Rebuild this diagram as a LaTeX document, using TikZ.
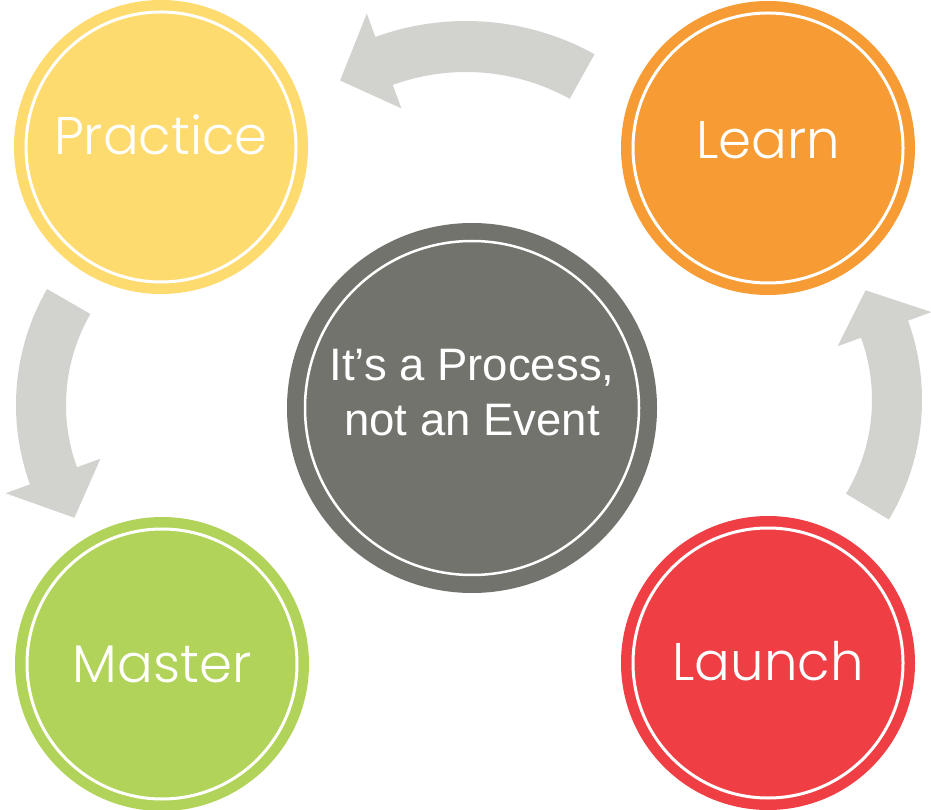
\documentclass[tikz,border=0pt]{standalone}
\usepackage{fontspec}
\setmainfont{Liberation Sans}
\newfontfamily\gothic{Poppins}[UprightFont=* Light]
\definecolor{practice}{HTML}{FDDB6E}
\definecolor{learn}{HTML}{F79C34}
\definecolor{launch}{HTML}{EF3F45}
\definecolor{master}{HTML}{B2D35A}
\definecolor{process}{HTML}{73736D}
\definecolor{arrowgrey}{HTML}{D2D3CF}

\begin{document}
\begin{tikzpicture}[x=1pt,y=1pt,
  blob/.style={shape=circle,fill=#1,minimum size=294pt,inner sep=0pt},
  ring/.style={draw=white,line width=3pt},
  word/.style={text=white,anchor=base,font=\gothic\fontsize{53}{64}\selectfont},
  band/.style={fill=arrowgrey}]
\useasboundingbox (0,0) rectangle (931,809);

% curved arrows
\fill[band,shift={(466,523)}] (61:265) arc[start angle=61,end angle=110,radius=265] -- (110:290) -- (121.5:241) -- (110:189) -- (110:214) arc[start angle=110,end angle=61,radius=214] -- cycle;
\fill[band,shift={(248,404)}] (150:232) arc[start angle=150,end angle=200,radius=232] -- (200:258) -- (213:207) -- (200:157) -- (200:182) arc[start angle=200,end angle=150,radius=182] -- cycle;
\fill[band,shift={(690,409)}] (-31:232) arc[start angle=-31,end angle=20,radius=232] -- (20:257) -- (32:207) -- (20:157) -- (20:182) arc[start angle=20,end angle=-31,radius=182] -- cycle;

\node[blob=practice] (0) at (161,662) {};
\node[blob=learn] (1) at (768,661) {};
\node[blob=launch] (2) at (768,146) {};
\node[blob=master] (3) at (162,145) {};
\node[shape=circle,fill=process,minimum size=370pt,inner sep=0pt] (4) at (472,401) {};

\draw[ring] (0.center) circle (135pt);
\draw[ring] (1.center) circle (135pt);
\draw[ring] (2.center) circle (135pt);
\draw[ring] (3.center) circle (135pt);
\draw[ring,line width=2.5pt] (4.center) circle (167pt);

\node[word] (5) at ([yshift=-8pt]0.center) {Practice};
\node[word] (6) at ([yshift=-11pt]1.center) {Learn};
\node[word] (7) at ([yshift=-17pt]2.center) {Launch};
\node[word] (8) at ([yshift=-18pt]3.center) {Master};
\node[text=white,align=center,font=\fontsize{45.5}{55}\selectfont] (9) at ([yshift=15pt]4.center) {It’s a Process,\\not an Event};
\end{tikzpicture}
\end{document}
